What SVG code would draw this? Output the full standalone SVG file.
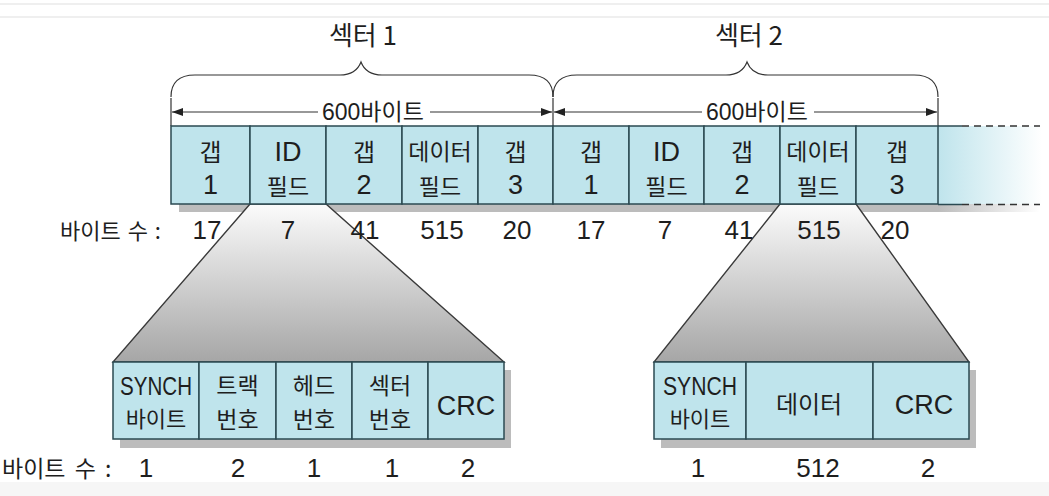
<svg xmlns="http://www.w3.org/2000/svg" width="1049" height="496" viewBox="0 0 1049 496">
<style>
.cell{fill:#bfe4ec;stroke:#2b4a52;stroke-width:1.5}
.shadow{fill:#bcbcbc}
.trap{fill:url(#tg);stroke:#3a3a3a;stroke-width:1.4}
.ln{fill:none;stroke:#333;stroke-width:1.2}
.kr{font-family:"Noto Sans CJK KR","Noto Sans",sans-serif;fill:#1e1e1e;text-anchor:middle}
.la{font-family:"Liberation Sans","Noto Sans CJK KR",sans-serif;fill:#1e1e1e;text-anchor:middle}
.mix{font-family:"Liberation Sans","Noto Sans CJK KR",sans-serif;fill:#1e1e1e}
</style>
<defs>
<linearGradient id="tg" x1="0" y1="0" x2="0" y2="1">
<stop offset="0" stop-color="#fbfbfb"/>
<stop offset="1" stop-color="#a6a6a6"/>
</linearGradient>
<linearGradient id="fade" x1="0" y1="0" x2="1" y2="0">
<stop offset="0" stop-color="#bfe4ec"/>
<stop offset="1" stop-color="#ffffff"/>
</linearGradient>
<linearGradient id="sfade" x1="0" y1="0" x2="1" y2="0">
<stop offset="0" stop-color="#bcbcbc"/>
<stop offset="1" stop-color="#ffffff"/>
</linearGradient>
<marker id="ah" markerUnits="userSpaceOnUse" markerWidth="12" markerHeight="8" refX="11" refY="4" orient="auto">
<path d="M0,0 L11,4 L0,8 z" fill="#222"/>
</marker>
</defs>
<rect width="1049" height="496" fill="#ffffff"/>
<line x1="0" y1="4" x2="1049" y2="4" stroke="#efefef" stroke-width="2"/>
<line x1="0" y1="17" x2="1049" y2="17" stroke="#efefef" stroke-width="2"/>
<rect x="0" y="482" width="1049" height="14" fill="#f6f6f6"/>

<g id="shadows">
<rect class="shadow" x="179" y="134" width="759" height="78"/>
<rect x="938" y="134" width="102" height="78" fill="url(#sfade)"/>
<rect class="shadow" x="120" y="370" width="391" height="78"/>
<rect class="shadow" x="661" y="370" width="315" height="78"/>
</g>

<g id="connectors">
<polygon class="trap" points="250,204 326,204 504,362 113,362"/>
<polygon class="trap" points="780,204 856,204 969,362 654,362"/>
<path class="ln" d="M171,97 Q171,75 195,75 L340,75 Q356,75 361,62 Q366,75 382,75 L529,75 Q553,75 553,97"/>
<path class="ln" d="M553,97 Q553,75 577,75 L726,75 Q742,75 747,62 Q752,75 768,75 L914,75 Q938,75 938,97"/>
<line class="ln" x1="171" y1="98" x2="171" y2="126"/>
<line class="ln" x1="553" y1="98" x2="553" y2="126"/>
<line class="ln" x1="938" y1="98" x2="938" y2="126"/>
<line class="ln" x1="318" y1="112" x2="172" y2="112" marker-end="url(#ah)"/>
<line class="ln" x1="430" y1="112" x2="552" y2="112" marker-end="url(#ah)"/>
<line class="ln" x1="702" y1="112" x2="554" y2="112" marker-end="url(#ah)"/>
<line class="ln" x1="814" y1="112" x2="937" y2="112" marker-end="url(#ah)"/>
</g>

<g id="sector-labels">
<text class="kr" x="363" y="45" font-size="26">섹터 1</text>
<text class="kr" x="749" y="45" font-size="26">섹터 2</text>
<text class="mix" x="322" y="120" font-size="23">600바이트</text>
<text class="mix" x="706" y="120" font-size="23">600바이트</text>
</g>

<g id="extension">
<rect x="938" y="126" width="104" height="78" fill="url(#fade)"/>
<line x1="938" y1="126" x2="962" y2="126" stroke="#2b4a52" stroke-width="1.5"/>
<line x1="938" y1="204.5" x2="962" y2="204.5" stroke="#2b4a52" stroke-width="1.5"/>
<line x1="962" y1="126" x2="1040" y2="126" stroke="#333" stroke-width="1.5" stroke-dasharray="7,5"/>
<line x1="962" y1="204.5" x2="1040" y2="204.5" stroke="#333" stroke-width="1.5" stroke-dasharray="7,5"/>
</g>

<g id="s1-gap1"><rect class="cell" x="171" y="126" width="79" height="78"/><text class="kr" x="210.5" y="161" font-size="24">갭</text><text class="la" x="210.5" y="194" font-size="27">1</text></g>
<g id="s1-id"><rect class="cell" x="250" y="126" width="76" height="78"/><text class="la" x="288" y="161" font-size="27">ID</text><text class="kr" x="288" y="195" font-size="23">필드</text></g>
<g id="s1-gap2"><rect class="cell" x="326" y="126" width="76" height="78"/><text class="kr" x="364" y="161" font-size="24">갭</text><text class="la" x="364" y="194" font-size="27">2</text></g>
<g id="s1-data"><rect class="cell" x="402" y="126" width="76" height="78"/><text class="kr" x="440" y="160" font-size="23">데이터</text><text class="kr" x="440" y="195" font-size="23">필드</text></g>
<g id="s1-gap3"><rect class="cell" x="478" y="126" width="75" height="78"/><text class="kr" x="515.5" y="161" font-size="24">갭</text><text class="la" x="515.5" y="194" font-size="27">3</text></g>
<g id="s2-gap1"><rect class="cell" x="553" y="126" width="76" height="78"/><text class="kr" x="591" y="161" font-size="24">갭</text><text class="la" x="591" y="194" font-size="27">1</text></g>
<g id="s2-id"><rect class="cell" x="629" y="126" width="75" height="78"/><text class="la" x="666.5" y="161" font-size="27">ID</text><text class="kr" x="666.5" y="195" font-size="23">필드</text></g>
<g id="s2-gap2"><rect class="cell" x="704" y="126" width="76" height="78"/><text class="kr" x="742" y="161" font-size="24">갭</text><text class="la" x="742" y="194" font-size="27">2</text></g>
<g id="s2-data"><rect class="cell" x="780" y="126" width="76" height="78"/><text class="kr" x="818" y="160" font-size="23">데이터</text><text class="kr" x="818" y="195" font-size="23">필드</text></g>
<g id="s2-gap3"><rect class="cell" x="856" y="126" width="82" height="78"/><text class="kr" x="897" y="161" font-size="24">갭</text><text class="la" x="897" y="194" font-size="27">3</text></g>

<g id="top-counts">
<text class="kr" x="60" y="239" font-size="22" style="text-anchor:start" word-spacing="2">바이트 수 :</text>
<text class="la" x="207" y="239" font-size="26">17</text>
<text class="la" x="288" y="239" font-size="26">7</text>
<text class="la" x="365" y="239" font-size="26">41</text>
<text class="la" x="442" y="239" font-size="26">515</text>
<text class="la" x="517" y="239" font-size="26">20</text>
<text class="la" x="591" y="239" font-size="26">17</text>
<text class="la" x="665" y="239" font-size="26">7</text>
<text class="la" x="739" y="239" font-size="26">41</text>
<text class="la" x="819" y="239" font-size="26">515</text>
<text class="la" x="895" y="239" font-size="26">20</text>
</g>

<g id="id-synch"><rect class="cell" x="113" y="362" width="86" height="77"/><text class="la" x="156" y="395" font-size="25" textLength="72" lengthAdjust="spacingAndGlyphs">SYNCH</text><text class="kr" x="156" y="427" font-size="22">바이트</text></g>
<g id="id-track"><rect class="cell" x="199" y="362" width="77" height="77"/><text class="kr" x="237.5" y="394" font-size="23">트랙</text><text class="kr" x="237.5" y="428" font-size="23">번호</text></g>
<g id="id-head"><rect class="cell" x="276" y="362" width="76" height="77"/><text class="kr" x="314" y="394" font-size="23">헤드</text><text class="kr" x="314" y="428" font-size="23">번호</text></g>
<g id="id-sector"><rect class="cell" x="352" y="362" width="76" height="77"/><text class="kr" x="390" y="394" font-size="23">섹터</text><text class="kr" x="390" y="428" font-size="23">번호</text></g>
<g id="id-crc"><rect class="cell" x="428" y="362" width="76" height="77"/><text class="la" x="466" y="415" font-size="27">CRC</text></g>

<g id="data-synch"><rect class="cell" x="654" y="362" width="92" height="77"/><text class="la" x="700" y="395" font-size="25" textLength="74" lengthAdjust="spacingAndGlyphs">SYNCH</text><text class="kr" x="700" y="427" font-size="22">바이트</text></g>
<g id="data-data"><rect class="cell" x="746" y="362" width="127" height="77"/><text class="kr" x="809" y="413" font-size="24">데이터</text></g>
<g id="data-crc"><rect class="cell" x="873" y="362" width="96" height="77"/><text class="la" x="924" y="414" font-size="27">CRC</text></g>

<g id="bottom-counts">
<text class="kr" x="2" y="477" font-size="23" style="text-anchor:start" word-spacing="4">바이트 수 :</text>
<text class="la" x="146" y="477" font-size="26">1</text>
<text class="la" x="238" y="477" font-size="26">2</text>
<text class="la" x="314" y="477" font-size="26">1</text>
<text class="la" x="392" y="477" font-size="26">1</text>
<text class="la" x="468" y="477" font-size="26">2</text>
<text class="la" x="698" y="477" font-size="26">1</text>
<text class="la" x="818" y="477" font-size="26">512</text>
<text class="la" x="928" y="477" font-size="26">2</text>
</g>
</svg>
